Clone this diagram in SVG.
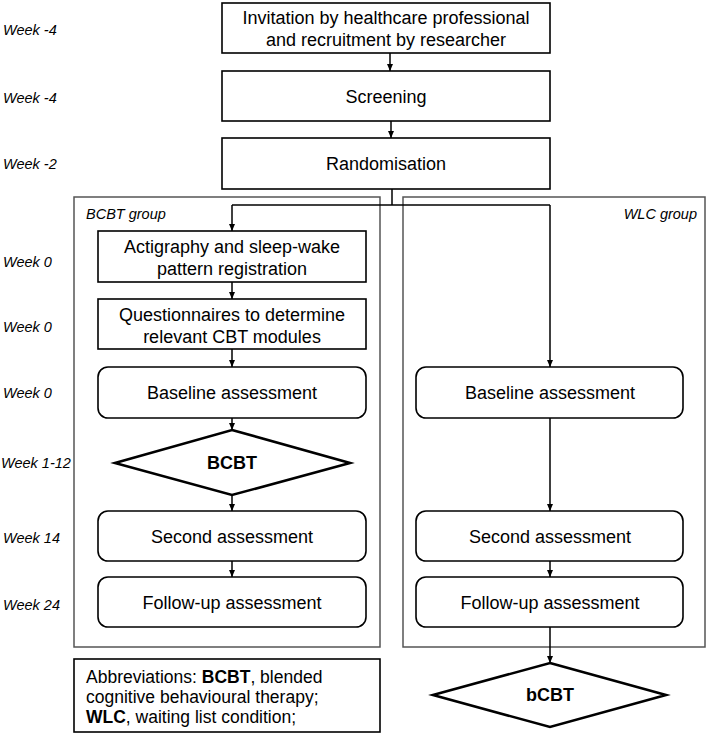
<svg xmlns="http://www.w3.org/2000/svg" width="711" height="733" viewBox="0 0 711 733">
<defs>
<marker id="ah" markerWidth="8" markerHeight="8" refX="7" refY="4" orient="auto" markerUnits="userSpaceOnUse">
<path d="M0,1 L7,4 L0,7 Z" fill="#000"/>
</marker>
<style>
.box{fill:#fff;stroke:#000;stroke-width:1.6}
.grp{fill:none;stroke:#555;stroke-width:1.5}
.dia{fill:#fff;stroke:#000;stroke-width:2.6}
.t{font-family:"Liberation Sans",Arial,sans-serif;font-size:18px;fill:#000;text-anchor:middle}
.b{font-weight:bold}
.wk{font-family:"Liberation Sans",Arial,sans-serif;font-size:14.5px;font-style:italic;fill:#000}
.ab{font-family:"Liberation Sans",Arial,sans-serif;font-size:17.5px;fill:#000}
.c{fill:none;stroke:#000;stroke-width:1.5}
</style>
</defs>
<rect width="711" height="733" fill="#fff"/>

<g id="weeks">
<text class="wk" x="3" y="35">Week -4</text>
<text class="wk" x="3" y="103">Week -4</text>
<text class="wk" x="3" y="169">Week -2</text>
<text class="wk" x="3" y="267">Week 0</text>
<text class="wk" x="3" y="332">Week 0</text>
<text class="wk" x="3" y="398">Week 0</text>
<text class="wk" x="1" y="468">Week 1-12</text>
<text class="wk" x="3" y="543">Week 14</text>
<text class="wk" x="3" y="610">Week 24</text>
</g>

<g id="bcbt-group">
<rect class="grp" x="74" y="197" width="306" height="450"/>
<text class="wk" x="86" y="219">BCBT group</text>
</g>
<g id="wlc-group">
<rect class="grp" x="403" y="197" width="302" height="450"/>
<text class="wk" x="697" y="219" text-anchor="end">WLC group</text>
</g>

<g id="connectors">
<line class="c" x1="390" y1="53" x2="390" y2="71" marker-end="url(#ah)"/>
<line class="c" x1="391" y1="121" x2="391" y2="138" marker-end="url(#ah)"/>
<polyline class="c" points="392,189 392,205"/>
<polyline class="c" points="232,205 550,205"/>
<line class="c" x1="232" y1="205" x2="232" y2="231" marker-end="url(#ah)"/>
<line class="c" x1="550" y1="205" x2="550" y2="367" marker-end="url(#ah)"/>
<line class="c" x1="232" y1="282" x2="232" y2="299" marker-end="url(#ah)"/>
<line class="c" x1="232" y1="349" x2="232" y2="367" marker-end="url(#ah)"/>
<line class="c" x1="232" y1="418" x2="232" y2="430" marker-end="url(#ah)"/>
<line class="c" x1="232" y1="495" x2="232" y2="511" marker-end="url(#ah)"/>
<line class="c" x1="232" y1="561" x2="232" y2="577" marker-end="url(#ah)"/>
<line class="c" x1="550" y1="418" x2="550" y2="511" marker-end="url(#ah)"/>
<line class="c" x1="550" y1="561" x2="550" y2="577" marker-end="url(#ah)"/>
<line class="c" x1="550" y1="627" x2="550" y2="663" marker-end="url(#ah)"/>
</g>

<g id="invitation">
<rect class="box" x="222" y="3" width="328" height="50"/>
<text class="t" x="386" y="24">Invitation by healthcare professional</text>
<text class="t" x="386" y="46">and recruitment by researcher</text>
</g>
<g id="screening">
<rect class="box" x="222" y="71" width="328" height="50"/>
<text class="t" x="386" y="103">Screening</text>
</g>
<g id="randomisation">
<rect class="box" x="222" y="138" width="328" height="51"/>
<text class="t" x="386" y="170">Randomisation</text>
</g>

<g id="actigraphy">
<rect class="box" x="98" y="231" width="268" height="51"/>
<text class="t" x="232" y="253">Actigraphy and sleep-wake</text>
<text class="t" x="232" y="275">pattern registration</text>
</g>
<g id="questionnaires">
<rect class="box" x="98" y="299" width="268" height="50"/>
<text class="t" x="232" y="321">Questionnaires to determine</text>
<text class="t" x="232" y="343">relevant CBT modules</text>
</g>
<g id="baseline-bcbt">
<rect class="box" x="98" y="367" width="268" height="51" rx="10"/>
<text class="t" x="232" y="399">Baseline assessment</text>
</g>
<g id="bcbt">
<polygon class="dia" points="232,430 350,463 232,495 115,463"/>
<text class="t b" x="232" y="469">BCBT</text>
</g>
<g id="second-bcbt">
<rect class="box" x="98" y="511" width="268" height="50" rx="10"/>
<text class="t" x="232" y="543">Second assessment</text>
</g>
<g id="followup-bcbt">
<rect class="box" x="98" y="577" width="268" height="50" rx="10"/>
<text class="t" x="232" y="609">Follow-up assessment</text>
</g>

<g id="baseline-wlc">
<rect class="box" x="416" y="367" width="267" height="51" rx="10"/>
<text class="t" x="550" y="399">Baseline assessment</text>
</g>
<g id="second-wlc">
<rect class="box" x="416" y="511" width="267" height="50" rx="10"/>
<text class="t" x="550" y="543">Second assessment</text>
</g>
<g id="followup-wlc">
<rect class="box" x="416" y="577" width="267" height="50" rx="10"/>
<text class="t" x="550" y="609">Follow-up assessment</text>
</g>
<g id="bcbt-wlc">
<polygon class="dia" points="550,663 666,695 550,727 433,695"/>
<text class="t b" x="550" y="701">bCBT</text>
</g>

<g id="abbreviations">
<rect class="box" x="74" y="659" width="306" height="73"/>
<text class="ab" x="86" y="683">Abbreviations: <tspan font-weight="bold">BCBT</tspan>, blended</text>
<text class="ab" x="86" y="703">cognitive behavioural therapy;</text>
<text class="ab" x="86" y="723"><tspan font-weight="bold">WLC</tspan>, waiting list condition;</text>
</g>
</svg>
